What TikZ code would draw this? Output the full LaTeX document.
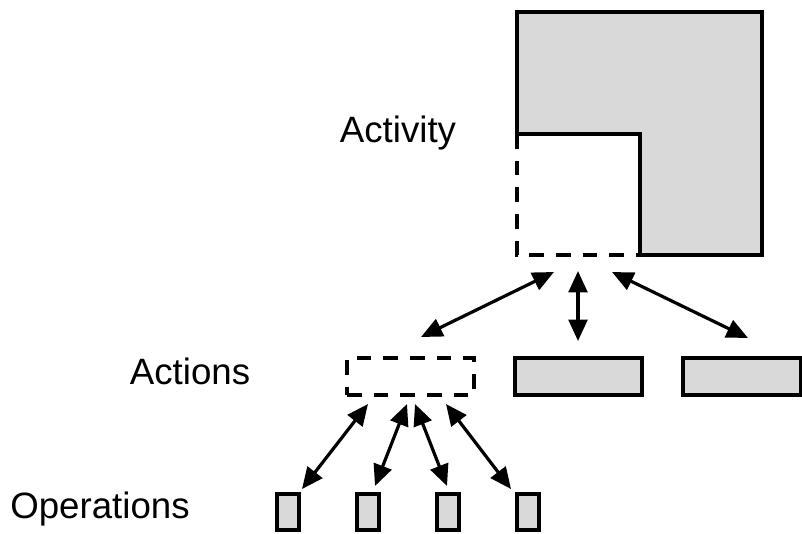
\documentclass[tikz,border=0pt]{standalone}
\usepackage{fontspec}
\setmainfont{Liberation Sans}
\usetikzlibrary{arrows.meta}
\definecolor{boxgrey}{RGB}{217,217,217}
\begin{document}
\begin{tikzpicture}[x=0.75pt,y=-0.75pt,
  solidbox/.style={draw=black, line width=2.4pt, fill=boxgrey, inner sep=0pt, outer sep=0pt, anchor=north west},
  dashbox/.style={draw=black, line width=2.4pt, dash pattern=on 11pt off 9pt, inner sep=0pt, outer sep=0pt, anchor=north west},
  actionbox/.style={minimum width=95.25pt, minimum height=27.75pt},
  opbox/.style={minimum width=16.5pt, minimum height=27pt},
  lbl/.style={font=\fontsize{27.5}{32}\selectfont, anchor=base, inner sep=0pt},
  link/.style={line width=2.4pt, {Triangle[length=16pt,width=14pt]}-{Triangle[length=16pt,width=14pt]}}
]
\useasboundingbox (0,0) rectangle (802,533);

% Activity
\filldraw[line width=2.4pt, fill=boxgrey, line join=miter]
  (517,134) -- (517,12) -- (762,12) -- (762,255) -- (640,255) -- (640,134) -- cycle;
\draw[line width=2.4pt, dash pattern=on 11pt off 9pt]
  (517,134) -- (517,255) -- (640,255);

% Labels
\node[lbl] (activity) at (398,142) {Activity};
\node[lbl] (actions) at (190,384) {Actions};
\node[lbl] (operations) at (100,518) {Operations};

% Action boxes
\node[dashbox, actionbox] (act1) at (347,358) {};
\node[solidbox, actionbox] (act2) at (515,358) {};
\node[solidbox, minimum width=88.5pt, minimum height=27.75pt] (act3) at (683,358) {};

% Operation boxes
\node[solidbox, opbox] (op1) at (277,494) {};
\node[solidbox, opbox] (op2) at (357,494) {};
\node[solidbox, opbox] (op3) at (437,494) {};
\node[solidbox, opbox] (op4) at (517,494) {};

% Connector ends
\coordinate (t1) at (554,272);
\coordinate (t2) at (578,271);
\coordinate (t3) at (612,272);
\coordinate (b1) at (421,337);
\coordinate (b2) at (578,341);
\coordinate (b3) at (748,338);

\coordinate (u1) at (368,404);
\coordinate (u2) at (407,404);
\coordinate (u3) at (415,404);
\coordinate (u4) at (446,404);
\coordinate (d1) at (302,489);
\coordinate (d2) at (375,486);
\coordinate (d3) at (447,486);
\coordinate (d4) at (511,489);

\draw[link] (t1) -- (b1);
\draw[link] (t2) -- (b2);
\draw[link] (t3) -- (b3);
\draw[link] (u1) -- (d1);
\draw[link] (u2) -- (d2);
\draw[link] (u3) -- (d3);
\draw[link] (u4) -- (d4);
\end{tikzpicture}
\end{document}
